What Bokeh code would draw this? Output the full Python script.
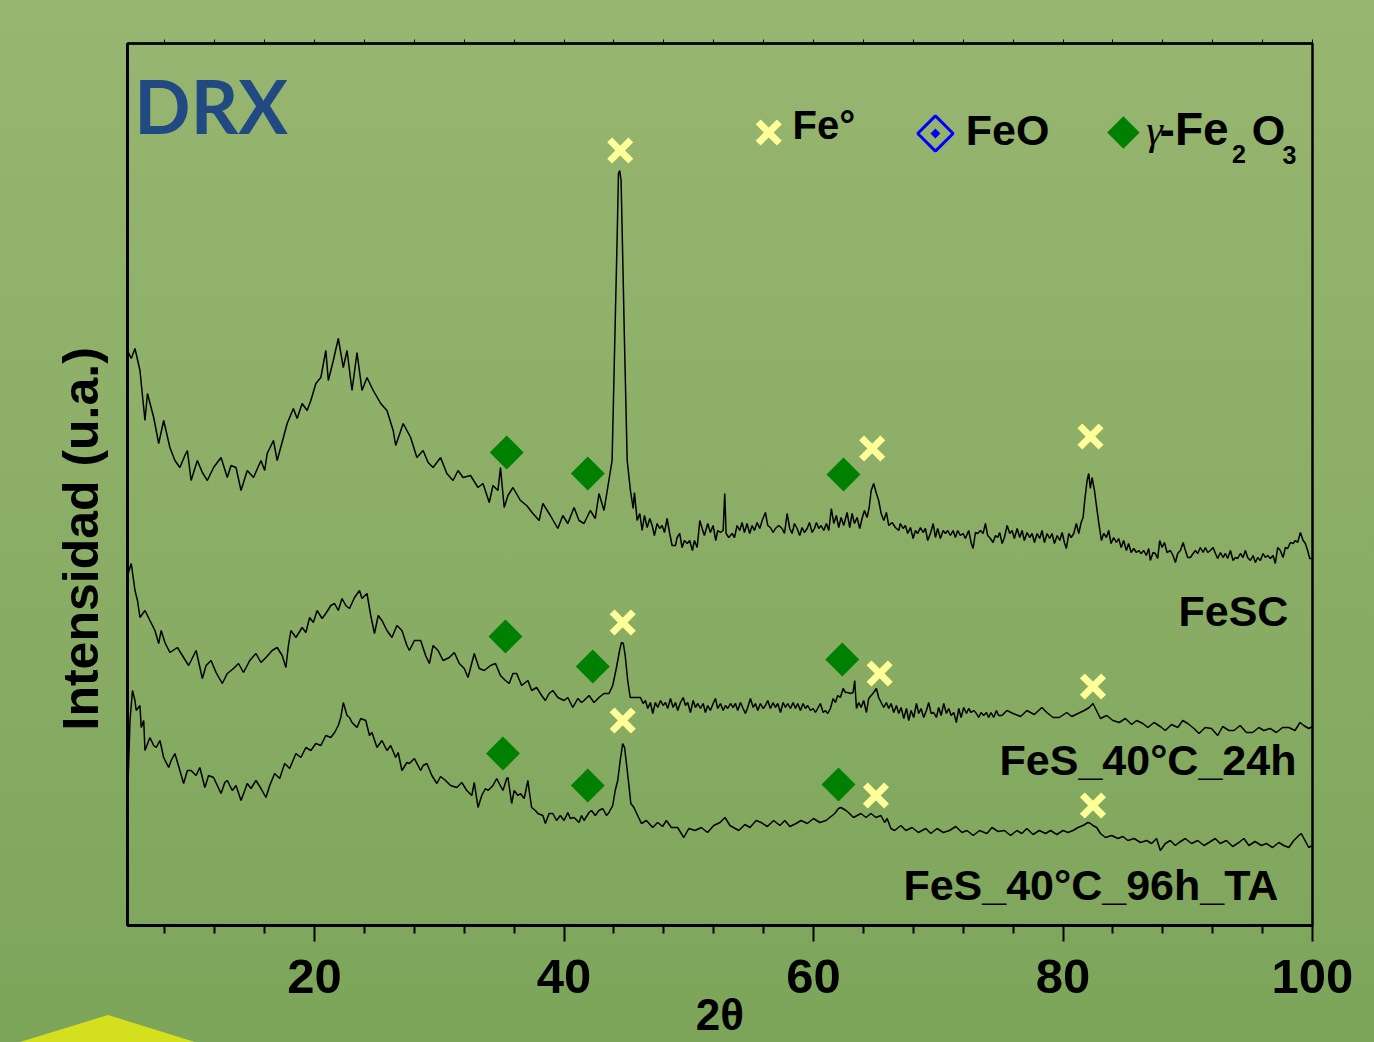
import numpy as np
from bokeh.plotting import figure
from bokeh.models import Range1d, FixedTicker, LinearAxis, Label, Title
from bokeh.embed import file_html
from bokeh.resources import INLINE

# ---------------- data (2theta, intensity a.u.) ----------------
fesc = [(5.0,575),(5.3,567),(5.6,577),(6.0,555),(6.4,505),(6.6,532),(7.1,508),(7.5,482),(7.9,505),
        (8.4,478),(8.8,465),(9.2,458),(9.6,470),(9.8,475),(10.1,445),(10.6,465),(11.0,453),(11.4,445),
        (11.9,458),(12.5,468),(13.0,448),(13.3,460),(13.7,458),(14.1,435),(14.6,455),(15.1,448),
        (15.7,465),(16.0,455),(16.2,472),(16.7,485),(17.0,465),(17.5,488),(17.8,502),(18.3,517),
        (18.6,507),(19.0,522),(19.4,515),(19.7,525),(20.1,542),(20.5,548),(20.9,575),(21.1,545),
        (21.5,565),(21.9,587),(22.3,558),(22.6,575),(23.0,535),(23.4,573),(23.8,535),(24.2,548),
        (24.7,535),(25.3,522),(25.8,515),(26.3,495),(26.5,480),(27.1,502),(27.7,488),(28.2,468),
        (28.7,475),(29.1,463),(29.5,458),(30.1,468),(30.6,452),(31.1,445),(31.5,455),(31.9,448),
        (32.5,450),(33.1,438),(33.5,442),(34.0,423),(34.3,440),(34.7,435),(34.9,458),(35.2,418),
        (35.5,430),(35.9,438),(36.5,425),(37.0,420),(37.5,412),(38.0,405),(38.3,422),(38.9,410),
        (39.5,397),(39.9,410),(40.3,402),(40.8,418),(41.2,405),(41.6,402),(42.1,415),(42.5,407),
        (42.8,432),(43.2,415),(43.5,438),(43.85,465),(44.12,615),(44.25,685),(44.36,752),(44.46,755),
        (44.57,745),(44.73,652),(44.84,585),(45.06,465),(45.32,435),(45.54,417),(45.64,433),(45.86,405),
        (46.07,412),(46.26,395),(46.44,410),(46.66,398),(46.87,407),(47.06,400),(47.24,390),(47.46,402),
        (47.67,397),(47.86,400),(48.05,393),(48.26,407),(48.47,392),(48.66,380),(48.93,380),(49.06,388),
        (49.27,392),(49.46,378),(49.65,385),(49.87,382),(50.07,385),(50.29,375),(50.45,385),(50.67,378),
        (50.88,405),(51.07,397),(51.25,390),(51.52,402),(51.73,393),(51.95,400),(52.16,385),(52.32,395),
        (52.54,393),(52.75,395),(52.88,432),(52.99,392),(53.20,388),(53.47,392),(53.66,388),(53.87,400),
        (54.08,395),(54.27,403),(54.46,393),(54.67,402),(54.88,392),(55.08,400),(55.26,395),(55.48,403),
        (55.69,397),(55.88,405),(56.14,413),(56.33,400),(56.54,398),(56.76,393),(56.94,397),(57.21,400),
        (57.48,397),(57.67,392),(57.88,412),(58.09,397),(58.28,392),(58.47,402),(58.68,397),(58.89,390),
        (59.08,398),(59.27,393),(59.49,397),(59.67,403),(59.89,393),(60.07,397),(60.23,403),(60.42,397),
        (60.61,400),(60.82,395),(61.03,402),(61.22,395),(61.43,417),(61.62,402),(61.83,410),(62.02,398),
        (62.21,408),(62.42,400),(62.69,413),(62.90,398),(63.09,412),(63.28,402),(63.49,408),(63.70,397),
        (63.89,407),(64.08,415),(64.29,408),(64.46,418),(64.62,435),(64.82,442),(65.04,432),(65.22,425),
        (65.42,412),(65.63,405),(65.84,413),(66.03,400),(66.30,403),(66.56,398),(66.83,395),(66.96,402),
        (67.18,397),(67.36,400),(67.55,392),(67.77,398),(67.98,387),(68.17,395),(68.35,392),(68.57,398),
        (68.78,393),(68.97,397),(69.15,385),(69.37,392),(69.59,402),(69.77,388),(69.95,397),(70.17,387),
        (70.39,395),(70.57,392),(70.76,395),(70.97,390),(71.19,395),(71.37,388),(71.56,395),(71.77,390),
        (71.99,392),(72.17,387),(72.44,395),(72.63,383),(72.79,377),(72.98,393),(73.16,392),(73.38,395),
        (73.59,392),(73.78,402),(73.96,390),(74.18,387),(74.39,383),(74.58,390),(74.76,388),(74.92,393),
        (75.12,382),(75.30,388),(75.52,400),(75.73,392),(75.92,395),(76.10,387),(76.32,397),(76.53,388),
        (76.72,395),(76.90,385),(77.12,393),(77.33,388),(77.52,392),(77.71,383),(77.92,392),(78.13,387),
        (78.32,395),(78.51,383),(78.72,392),(78.93,387),(79.12,392),(79.31,382),(79.53,390),(79.74,385),
        (79.93,393),(80.11,383),(80.27,377),(80.46,392),(80.65,388),(80.86,392),(81.07,402),(81.26,392),
        (81.45,403),(81.61,408),(81.74,425),(81.93,445),(82.06,452),(82.19,437),(82.33,448),(82.52,435),
        (82.73,415),(82.92,398),(83.08,385),(83.26,392),(83.48,388),(83.66,395),(83.85,382),(84.06,388),
        (84.28,383),(84.46,387),(84.66,378),(84.86,385),(85.08,375),(85.26,382),(85.46,373),(85.67,377),
        (85.88,373),(86.07,375),(86.26,372),(86.47,375),(86.68,370),(86.87,377),(87.00,365),(87.22,373),
        (87.40,372),(87.59,367),(87.75,385),(87.94,378),(88.13,383),(88.34,373),(88.61,375),(88.82,370),
        (89.01,363),(89.19,372),(89.41,375),(89.63,383),(89.81,375),(90.00,368),(90.21,368),(90.43,372),
        (90.61,375),(90.80,372),(91.01,378),(91.23,373),(91.41,378),(91.60,373),(91.81,375),(92.03,378),
        (92.22,372),(92.40,367),(92.62,373),(92.83,368),(93.02,372),(93.20,367),(93.42,375),(93.63,365),
        (93.82,368),(94.00,367),(94.22,372),(94.43,368),(94.62,375),(94.80,368),(95.02,365),(95.24,370),
        (95.42,363),(95.61,368),(95.82,365),(96.04,372),(96.22,368),(96.41,370),(96.62,367),(96.84,370),
        (97.02,362),(97.21,378),(97.42,375),(97.64,368),(97.83,378),(98.01,377),(98.23,383),(98.44,382),
        (98.63,385),(98.81,383),(99.03,393),(99.25,385),(99.43,382),(99.61,375),(99.78,367),(100.0,367)]

fes_24h = [(5.0,350),(5.3,362),(5.6,335),(5.8,325),(6.0,308),(6.4,315),(6.8,305),(7.2,295),(7.5,282),
           (7.7,295),(8.0,283),(8.4,273),(9.0,278),(9.5,268),(9.9,260),(10.5,275),(11.0,247),(11.3,260),
           (11.7,265),(12.1,253),(12.6,242),(13.0,252),(13.5,257),(13.9,262),(14.3,253),(14.8,265),
           (15.3,272),(15.7,263),(16.1,268),(16.6,275),(17.0,278),(17.4,270),(17.7,258),(17.9,280),
           (18.1,295),(18.5,288),(19.0,298),(19.3,293),(19.6,308),(19.9,303),(20.2,315),(20.6,307),
           (20.9,312),(21.3,320),(21.6,322),(21.9,315),(22.2,327),(22.5,320),(22.8,317),(23.2,328),
           (23.6,335),(23.8,327),(24.2,332),(24.5,310),(24.8,292),(25.1,310),(25.4,305),(25.8,295),
           (26.2,288),(26.6,300),(27.0,295),(27.4,280),(27.6,275),(28.0,285),(28.5,285),(28.9,270),
           (29.2,262),(29.5,280),(29.9,275),(30.3,265),(30.8,268),(31.2,273),(31.6,262),(32.0,257),
           (32.3,248),(32.8,272),(33.2,257),(33.6,255),(34.1,260),(34.5,262),(34.9,250),(35.3,245),
           (35.6,242),(35.9,252),(36.2,252),(36.6,240),(37.1,245),(37.4,235),(37.8,238),(38.2,230),
           (38.5,225),(38.8,232),(39.1,235),(39.5,228),(40.0,225),(40.3,228),(40.7,218),(41.1,227),
           (41.4,223),(41.6,225),(42.0,230),(42.4,223),(42.8,228),(43.2,232),(43.6,232),(43.9,240),
           (44.2,258),(44.45,275),(44.6,283),(44.75,282),(44.9,270),(45.1,245),(45.3,228),(45.5,228),
           (45.8,228),(46.12,228),(46.34,222),(46.52,225),(46.71,217),(46.92,223),(47.11,212),(47.32,223),
           (47.51,218),(47.73,225),(47.94,220),(48.13,223),(48.31,217),(48.53,227),(48.74,218),(48.93,223),
           (49.11,215),(49.33,223),(49.55,228),(49.73,220),(49.91,223),(50.13,213),(50.35,225),(50.53,218),
           (50.72,222),(50.93,217),(51.15,222),(51.33,213),(51.52,220),(51.73,215),(51.95,222),(52.13,227),
           (52.32,217),(52.54,222),(52.75,215),(52.94,220),(53.12,217),(53.34,222),(53.55,218),(53.74,222),
           (53.92,215),(54.14,223),(54.35,217),(54.54,212),(54.72,218),(54.94,227),(55.16,218),(55.34,222),
           (55.53,215),(55.74,222),(55.96,217),(56.14,220),(56.33,225),(56.54,217),(56.76,223),(56.94,218),
           (57.13,222),(57.35,213),(57.56,223),(57.75,218),(57.93,222),(58.15,217),(58.36,223),(58.55,217),
           (58.73,222),(58.95,215),(59.16,222),(59.35,217),(59.53,220),(59.75,215),(59.97,217),(60.15,213),
           (60.33,217),(60.55,222),(60.77,213),(60.95,215),(61.14,212),(61.35,217),(61.57,227),(61.75,223),
           (61.94,230),(62.15,228),(62.37,237),(62.56,233),(62.74,233),(62.96,232),(63.17,233),(63.30,245),
           (63.44,217),(63.62,223),(63.81,218),(64.02,225),(64.24,213),(64.42,227),(64.62,230),(64.82,233),
           (65.04,237),(65.22,228),(65.42,223),(65.63,218),(65.84,223),(66.03,217),(66.22,222),(66.43,213),
           (66.64,220),(66.83,212),(67.02,218),(67.23,207),(67.45,217),(67.63,205),(67.82,215),(68.03,208),
           (68.25,222),(68.43,212),(68.62,217),(68.83,208),(69.05,215),(69.23,223),(69.43,212),(69.63,213),
           (69.85,208),(70.03,218),(70.23,210),(70.44,222),(70.65,212),(70.84,217),(71.03,210),(71.24,213),
           (71.45,203),(71.64,217),(71.83,208),(72.04,218),(72.26,212),(72.44,217),(72.63,213),(72.84,215),
           (73.06,212),(73.24,208),(73.43,213),(73.64,210),(73.86,213),(74.04,208),(74.23,213),(74.44,208),
           (74.66,215),(74.84,210),(75.1,210),(75.5,215),(76.0,212),(76.6,209),(77.1,215),
           (77.7,211),(78.3,218),(78.7,213),(79.2,208),(79.7,208),(80.3,213),(80.7,209),(81.2,212),
           (81.7,215),(82.1,218),(82.4,222),(82.6,217),(83.0,207),(83.5,210),(84.0,205),(84.5,203),
           (85.0,207),(85.5,201),(85.9,205),(86.4,202),(86.8,198),(87.3,203),(87.8,199),(88.2,195),
           (88.7,201),(89.2,198),(89.6,205),(90.0,202),(90.5,197),(90.9,192),(91.4,198),(91.9,197),
           (92.4,190),(92.8,199),(93.3,195),(93.7,195),(94.2,200),(94.7,193),(95.2,193),(95.7,198),
           (96.1,195),(96.6,197),(97.1,193),(97.6,198),(98.1,198),(98.6,195),(99.0,203),(99.3,200),
           (99.7,197),(100.0,199)]

fes_96h_ta = [(5.0,125),(5.2,205),(5.4,235),(5.6,225),(5.7,215),(6.0,220),(6.1,198),(6.3,205),(6.4,175),
              (6.8,188),(7.1,180),(7.3,178),(7.6,185),(7.9,168),(8.3,158),(8.5,165),(8.8,172),(9.2,155),
              (9.5,142),(9.8,155),(10.1,155),(10.5,150),(10.8,158),(11.2,138),(11.5,150),(11.9,148),
              (12.2,140),(12.5,132),(12.8,143),(13.0,145),(13.4,135),(13.7,140),(14.1,125),(14.4,135),
              (14.6,142),(14.9,137),(15.3,145),(15.7,137),(16.1,128),(16.4,140),(16.8,152),(17.2,147),
              (17.6,162),(18.0,157),(18.5,172),(18.9,168),(19.3,178),(19.7,175),(20.1,182),(20.5,180),
              (20.9,190),(21.3,188),(21.6,193),(21.9,200),(22.1,208),(22.3,223),(22.6,210),(22.8,208),
              (23.0,203),(23.4,198),(23.7,207),(24.1,205),(24.4,190),(24.6,193),(25.0,178),(25.4,185),
              (25.8,175),(26.1,180),(26.5,168),(26.7,173),(27.0,155),(27.4,163),(27.6,162),(28.0,167),
              (28.5,155),(28.7,160),(29.0,162),(29.4,150),(29.8,142),(30.1,149),(30.5,145),(30.9,140),
              (31.4,138),(31.8,143),(32.2,135),(32.6,130),(32.8,143),(33.1,118),(33.4,130),(33.7,137),
              (33.9,135),(34.3,140),(34.6,147),(34.8,142),(35.1,135),(35.4,147),(35.5,148),(35.8,122),
              (36.0,135),(36.3,130),(36.5,132),(36.8,127),(37.1,145),(37.2,135),(37.4,118),(37.7,115),
              (37.9,112),(38.3,110),(38.5,102),(38.8,112),(39.1,112),(39.4,105),(39.7,110),(40.0,105),
              (40.3,113),(40.5,107),(40.8,108),(41.2,103),(41.4,110),(41.6,105),(42.0,113),(42.2,115),
              (42.5,110),(42.8,115),(43.1,117),(43.4,110),(43.6,113),(43.9,120),(44.1,135),(44.3,145),
              (44.5,165),(44.7,182),(44.85,178),(45.0,162),(45.2,140),(45.35,122),(45.6,118),(45.9,110),
              (46.2,102),(46.6,105),(47.1,98),(47.5,103),(47.9,99),(48.2,105),(48.6,98),(49.1,98),
              (49.6,88),(50.0,97),(50.5,95),(51.0,98),(51.5,93),(52.0,100),(52.5,103),(52.9,108),
              (53.3,100),(54.0,95),(54.5,101),(54.9,98),(55.4,105),(55.8,103),(56.3,99),(56.8,105),
              (57.3,100),(57.7,105),(58.1,99),(58.6,102),(59.0,105),(59.5,102),(60.0,107),(60.5,103),
              (61.0,105),(61.4,109),(61.7,112),(62.0,117),(62.2,118),(62.6,115),(62.8,113),(63.2,108),
              (63.5,110),(63.8,112),(64.2,108),(64.6,112),(65.0,108),(65.4,110),(65.7,103),(65.9,107),
              (66.2,97),(66.5,95),(67.0,100),(67.4,95),(67.9,98),(68.4,93),(69.0,97),(69.4,92),
              (69.9,97),(70.4,93),(70.9,95),(71.4,99),(71.9,93),(72.3,95),(72.8,90),(73.3,95),
              (73.9,92),(74.3,98),(74.8,94),(75.3,95),(75.8,90),(76.3,95),(76.7,92),(77.1,97),
              (77.6,91),(78.1,95),(78.6,92),(79.0,95),(79.5,91),(80.0,95),(80.4,93),(80.8,95),
              (81.2,98),(81.6,100),(82.0,103),(82.2,102),(82.4,100),(82.7,98),(83.0,92),(83.4,88),
              (83.9,90),(84.4,87),(84.8,89),(85.2,85),(85.7,87),(86.2,83),(86.7,85),(87.1,82),
              (87.5,87),(87.8,75),(88.2,82),(88.6,85),(89.0,80),(89.3,83),(89.8,87),(90.3,82),
              (90.8,85),(91.3,80),(91.7,83),(92.2,87),(92.6,82),(93.1,85),(93.6,79),(94.1,83),
              (94.5,87),(94.9,80),(95.4,84),(95.9,80),(96.3,82),(96.8,78),(97.3,83),(97.7,80),
              (98.1,78),(98.5,85),(98.9,90),(99.1,92),(99.4,85),(99.7,78),(100.0,80)]

# phase markers (2theta, intensity)
fe0_x = [44.5, 64.7, 82.2, 44.7, 65.3, 82.4, 44.7, 65.0, 82.4]
fe0_y = [775, 477, 489, 303, 252, 239, 205, 130, 120]
gfe2o3_x = [35.4, 41.9, 62.4, 35.3, 42.3, 62.3, 35.1, 41.9, 62.0]
gfe2o3_y = [473, 452, 451, 289, 259, 266, 172, 140, 141]

major_ticks = [20, 40, 60, 80, 100]
minor_ticks = [8, 12, 16, 24, 28, 32, 36, 44, 48, 52, 56, 64, 68, 72, 76, 84, 88, 92, 96]

series_names = ["FeSC", "FeS_40°C_24h", "FeS_40°C_96h_TA"]

FONT = "Liberation Sans"

tri_svg = ("<svg xmlns='http://www.w3.org/2000/svg' width='1374' height='1042'>"
           "<polygon points='20,1042 108,1015 195,1042' fill='%23d4e01e'/></svg>")

p = figure(width=1374, height=1042, output_backend="svg", toolbar_location=None,
           x_range=Range1d(5, 100), y_range=Range1d(0, 882),
           x_axis_location=None, y_axis_location=None,
           min_border_left=127, min_border_right=62, min_border_top=43, min_border_bottom=117)
p.grid.grid_line_color = None
p.background_fill_alpha = 0
p.border_fill_color = "#8aad66"
p.border_fill_alpha = 0
p.styles = {
    "background-image": 'url("data:image/svg+xml;utf8,' + tri_svg + '"), '
                        "linear-gradient(180deg, #97b671 0%, #8aad65 55%, #7ca55a 100%)",
    "background-repeat": "no-repeat",
    "background-color": "#8aad66",
}
p.outline_line_color = "black"
p.outline_line_width = 2.5

bottom = LinearAxis(ticker=FixedTicker(ticks=major_ticks, minor_ticks=minor_ticks))
bottom.axis_line_width = 3
bottom.major_tick_out = 16
bottom.major_tick_in = 0
bottom.minor_tick_out = 8
bottom.minor_tick_in = 0
bottom.major_tick_line_width = 2
bottom.minor_tick_line_width = 2
bottom.major_label_text_font = FONT
bottom.major_label_text_font_style = "bold"
bottom.major_label_text_font_size = "49px"
bottom.major_label_text_color = "black"
bottom.major_label_standoff = 18
bottom.axis_label = "2θ"
bottom.axis_label_text_font = FONT
bottom.axis_label_text_font_style = "bold"
bottom.axis_label_text_font_size = "44px"
bottom.axis_label_text_color = "black"
bottom.axis_label_standoff = -6
p.add_layout(bottom, "below")

top = LinearAxis(ticker=FixedTicker(ticks=major_ticks, minor_ticks=minor_ticks))
top.axis_line_width = 2
top.major_tick_out = 4
top.major_tick_in = 0
top.minor_tick_out = 4
top.minor_tick_in = 0
top.major_label_text_font_size = "0px"
p.add_layout(top, "above")

left = LinearAxis(ticker=FixedTicker(ticks=[]))
left.axis_line_width = 3
left.major_tick_out = 0
left.minor_tick_out = 0
left.major_label_standoff = 0
left.major_label_text_font_size = "0px"
p.add_layout(left, "left")

ytitle = Title(text="Intensidad (u.a.)", align="left", offset=195, standoff=38,
               text_font=FONT, text_font_style="bold", text_font_size="50px",
               text_color="black")
p.add_layout(ytitle, "left")

for data in (fesc, fes_24h, fes_96h_ta):
    p.line([d[0] for d in data], [d[1] for d in data], line_color="black", line_width=1.5)

p.scatter(gfe2o3_x, gfe2o3_y, marker="square", angle=np.pi / 4, size=24,
          fill_color="#008000", line_color=None)
p.scatter(fe0_x, fe0_y, marker="x", size=30, line_color="#ffff99", line_width=7)

# legend
p.scatter([56.41], [793], marker="x", size=30, line_color="#ffff99", line_width=7)
p.scatter([69.77], [792], marker="square", angle=np.pi / 4, size=25,
          fill_color=None, line_color="#0000ff", line_width=3)
p.scatter([69.77], [792], marker="square", angle=np.pi / 4, size=7,
          fill_color="#0000ff", line_color=None)
p.scatter([84.84], [793], marker="square", angle=np.pi / 4, size=23,
          fill_color="#008000", line_color=None)

def lab(x, y, text, size, align="left", font=FONT, style="bold", color="black"):
    p.add_layout(Label(x=x, y=y, text=text, text_font=font, text_font_style=style,
                       text_font_size=size, text_align=align, text_baseline="alphabetic",
                       text_color=color))

lab(58.31, 801, "Fe°", "40px")
lab(72.2, 796, "FeO", "43px")
lab(86.67, 796, "γ", "42px", font="Liberation Serif", style="italic")
lab(87.74, 797, "-Fe", "46px")
lab(93.55, 772, "2", "25px")
lab(95.13, 796, "O", "43px")
lab(97.6, 771, "3", "25px")

lab(98.07, 315, series_names[0], "43px", align="right")
lab(98.71, 166, series_names[1], "43px", align="right")
lab(97.26, 41, series_names[2], "43px", align="right")

lab(5.55, 820, "DRX", "74px", font="Lato", color="#214982")

open("out.html", "w").write(file_html(p, INLINE))
